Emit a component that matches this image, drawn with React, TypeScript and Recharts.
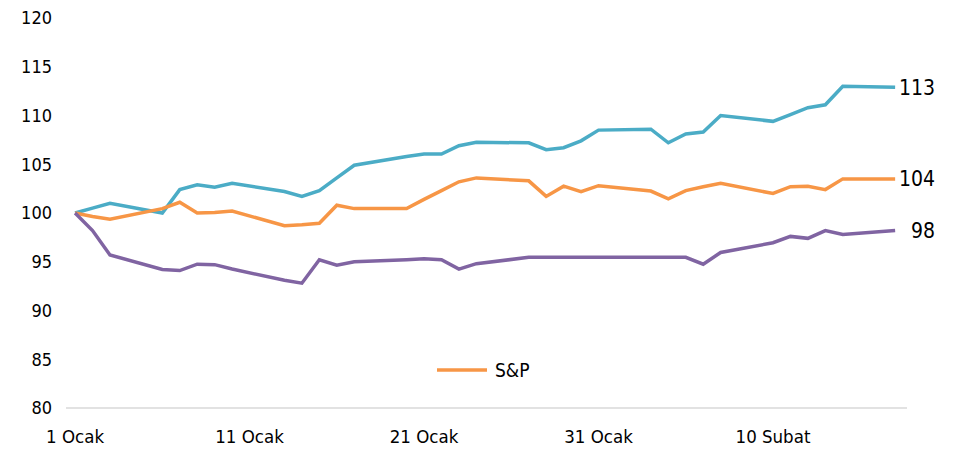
import { LineChart, Line, XAxis, YAxis, LabelList } from 'recharts';

// days since 1 Ocak (trading days only)
const days = [0, 1, 2, 5, 6, 7, 8, 9, 12, 13, 14, 15, 16, 19, 20, 21, 22, 23, 26, 27, 28, 29, 30, 33, 34, 35, 36, 37, 40, 41, 42, 43, 44, 47];

const blueValues = [100, 100.5, 101.0, 100.0, 102.4, 102.9, 102.65, 103.05, 102.2, 101.7, 102.3, 103.6, 104.9, 105.8, 106.05, 106.05, 106.9, 107.25, 107.2, 106.5, 106.7, 107.4, 108.5, 108.6, 107.2, 108.1, 108.3, 110.0, 109.4, 110.1, 110.8, 111.1, 113.0, 112.9];
const spValues = [100, 99.65, 99.35, 100.45, 101.1, 100.0, 100.05, 100.2, 98.7, 98.8, 98.95, 100.8, 100.45, 100.45, 101.4, 102.3, 103.2, 103.6, 103.3, 101.7, 102.75, 102.2, 102.8, 102.25, 101.45, 102.3, 102.7, 103.05, 102.0, 102.7, 102.75, 102.4, 103.5, 103.5];
const purpleValues = [100, 98.2, 95.7, 94.2, 94.1, 94.75, 94.7, 94.25, 93.1, 92.8, 95.2, 94.65, 95.0, 95.2, 95.3, 95.2, 94.25, 94.8, 95.45, 95.45, 95.45, 95.45, 95.45, 95.45, 95.45, 95.45, 94.75, 95.95, 96.95, 97.6, 97.4, 98.2, 97.8, 98.2];

const tickDays = [0, 10, 20, 30, 40];
const tickLabels = ['1 Ocak', '11 Ocak', '21 Ocak', '31 Ocak', '10 Subat'];
const yTicks = [80, 85, 90, 95, 100, 105, 110, 115, 120];

const data = days.map((d, i) => ({
  day: d,
  blue: blueValues[i],
  sp: spValues[i],
  purple: purpleValues[i],
}));

const FONT = '"DejaVu Sans Condensed", "DejaVu Sans", sans-serif';

const EndLabel = (props: any) => {
  const { x, y, index, value } = props;
  if (index !== days.length - 1) return null;
  return (
    <text x={x + 40} y={y} dy="0.35em" textAnchor="end" fontSize={21} fill="#000" fontFamily={FONT}>
      {Math.round(value)}
    </text>
  );
};

export default function App() {
  return (
    <div style={{ position: 'relative', width: 945, height: 443, fontFamily: FONT }}>
      <LineChart width={945} height={443} data={data} margin={{ top: 10, right: 46, bottom: 13, left: 0 }}>
        <XAxis
          dataKey="day"
          type="number"
          domain={[-0.52, 47.68]}
          ticks={tickDays}
          tickFormatter={(v: number) => tickLabels[tickDays.indexOf(v)] ?? ''}
          tickLine={false}
          tickSize={6}
          tickMargin={16}
          height={30}
          axisLine={{ stroke: '#D9D9D9', strokeWidth: 1.5 }}
          tick={{ fill: '#000', fontSize: 18.5, fontFamily: FONT }}
          interval={0}
        />
        <YAxis
          type="number"
          domain={[80, 120]}
          ticks={yTicks}
          width={58}
          axisLine={false}
          tickLine={false}
          tickSize={6}
          tickMargin={8}
          tick={{ fill: '#000', fontSize: 18, fontFamily: FONT }}
          interval={0}
        />
        <Line dataKey="blue" name="Endeks 1" stroke="#4BACC6" strokeWidth={3.5} dot={false} isAnimationActive={false}>
          <LabelList dataKey="blue" content={EndLabel} />
        </Line>
        <Line dataKey="sp" name="S&P" stroke="#F79646" strokeWidth={3.5} dot={false} isAnimationActive={false}>
          <LabelList dataKey="sp" content={EndLabel} />
        </Line>
        <Line dataKey="purple" name="Endeks 2" stroke="#8064A2" strokeWidth={3.5} dot={false} isAnimationActive={false}>
          <LabelList dataKey="purple" content={EndLabel} />
        </Line>
      </LineChart>
      <div
        style={{
          position: 'absolute',
          left: 429,
          top: 351,
          display: 'flex',
          alignItems: 'center',
          fontSize: 19,
          color: '#000',
        }}
      >
        <svg width={58} height={10}>
          <line x1={0} y1={5} x2={50} y2={5} stroke="#F79646" strokeWidth={3.5} />
        </svg>
        <span>S&amp;P</span>
      </div>
    </div>
  );
}
